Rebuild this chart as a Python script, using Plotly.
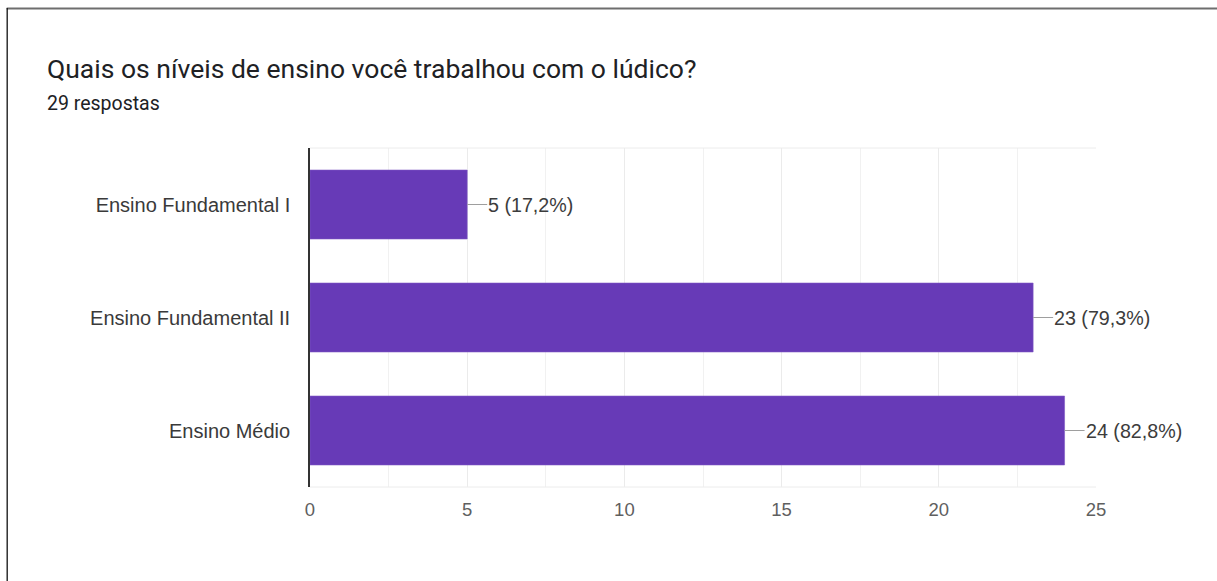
import plotly.graph_objects as go

# Survey answers: teaching levels where playful activities were used
categories = ["Ensino Fundamental I", "Ensino Fundamental II", "Ensino Médio"]
counts = [5, 23, 24]
total_responses = 29

title_text = "Quais os níveis de ensino você trabalhou com o lúdico?"
subtitle_text = f"{total_responses} respostas"

x_ticks = [0, 5, 10, 15, 20, 25]

W, H = 1217, 581
M_L, M_R, M_T, M_B = 309.5, 121, 148, 94
PW = W - M_L - M_R
PH = H - M_T - M_B


def px_x(px):
    return (px - M_L) / PW


def px_y(py):
    return (H - M_B - py) / PH


BAR_COLOR = "#673ab7"
LABEL_FONT = "Liberation Sans, Arial, sans-serif"

fig = go.Figure()
fig.add_trace(
    go.Bar(
        x=counts,
        y=categories,
        orientation="h",
        width=0.61,
        marker=dict(color=BAR_COLOR, line=dict(color="#7e57c2", width=0.6)),
        hoverinfo="skip",
    )
)

# Value labels with a short leader line from each bar end
for cat, val in zip(categories, counts):
    pct = f"{val / total_responses * 100:.1f}".replace(".", ",")
    fig.add_annotation(
        x=val,
        y=cat,
        xref="x",
        yref="y",
        text=f"{val} ({pct}%)",
        showarrow=True,
        arrowhead=0,
        arrowwidth=1.2,
        arrowcolor="#9e9e9e",
        ax=20,
        ay=0,
        xanchor="left",
        yanchor="middle",
        borderpad=0,
        font=dict(family=LABEL_FONT, size=19.7, color="#3c3c3c"),
    )

# Title and response count
fig.add_annotation(
    x=px_x(44), y=px_y(68), xref="paper", yref="paper",
    text=title_text, showarrow=False, xanchor="left", yanchor="middle",
    font=dict(family="Roboto, sans-serif", size=26.5, color="#202124"),
)
fig.add_annotation(
    x=px_x(44.5), y=px_y(103), xref="paper", yref="paper",
    text=subtitle_text, showarrow=False, xanchor="left", yanchor="middle",
    font=dict(family="Roboto, sans-serif", size=19.5, color="#202124"),
)

shapes = [
    # faint frame lines along the top and bottom of the plot area
    dict(type="line", xref="x", yref="paper", x0=0, x1=25, y0=1, y1=1,
         line=dict(color="#ececec", width=1)),
    dict(type="line", xref="x", yref="paper", x0=0, x1=25, y0=0, y1=0,
         line=dict(color="#ececec", width=1)),
    # page frame: top and left edges
    dict(type="line", xref="paper", yref="paper", x0=px_x(6), x1=px_x(W + 2),
         y0=px_y(8.5), y1=px_y(8.5), line=dict(color="#6e6e6e", width=2)),
    dict(type="line", xref="paper", yref="paper", x0=px_x(6.5), x1=px_x(6.5),
         y0=px_y(8), y1=px_y(H + 2), line=dict(color="#111111", width=1.3)),
]

fig.update_layout(
    width=W,
    height=H,
    margin=dict(l=M_L, r=M_R, t=M_T, b=M_B),
    paper_bgcolor="white",
    plot_bgcolor="white",
    showlegend=False,
    bargap=0.39,
    shapes=shapes,
    xaxis=dict(
        range=[0, 25],
        tickvals=x_ticks,
        ticktext=[str(v) for v in x_ticks],
        showgrid=True,
        gridcolor="#ebebeb",
        gridwidth=1,
        minor=dict(dtick=2.5, showgrid=True, gridcolor="#f1f1f1", gridwidth=1),
        zeroline=False,
        showline=False,
        ticks="",
        ticklabelstandoff=9,
        tickfont=dict(family=LABEL_FONT, size=18.5, color="#5f5f5f"),
        fixedrange=True,
    ),
    yaxis=dict(
        categoryorder="array",
        categoryarray=categories,
        autorange="reversed",
        showgrid=False,
        zeroline=False,
        showline=True,
        linecolor="#333333",
        linewidth=1.6,
        ticks="",
        ticklabelstandoff=14,
        tickfont=dict(family=LABEL_FONT, size=20, color="#3a3a3a"),
        fixedrange=True,
    ),
)

fig.write_html("out.html")
